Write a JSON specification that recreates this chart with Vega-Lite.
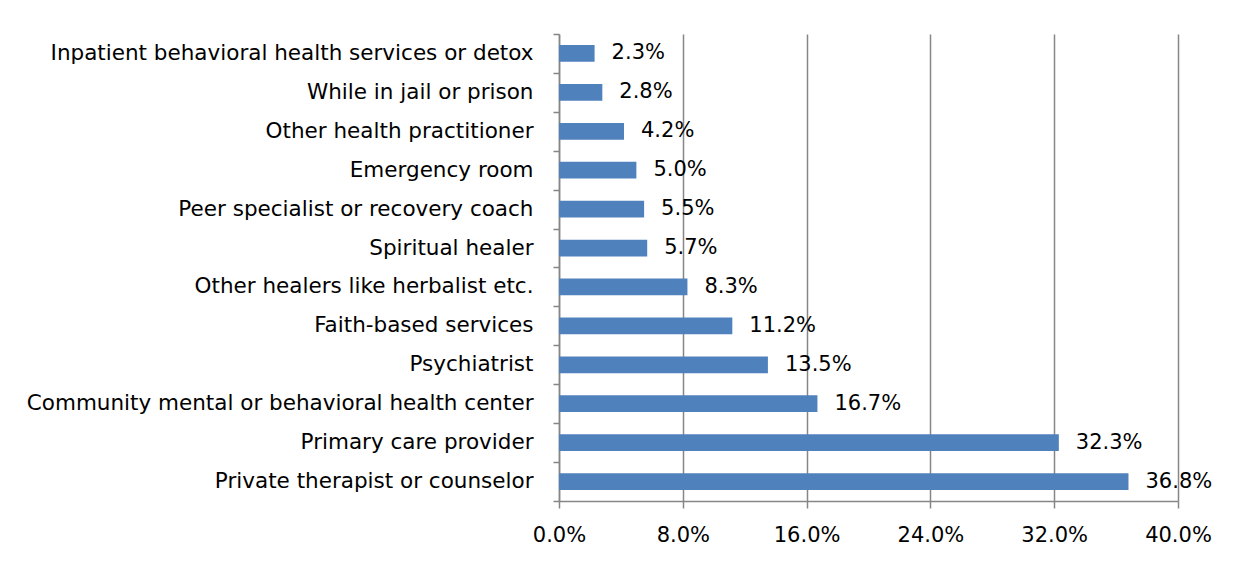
{
  "$schema": "https://vega.github.io/schema/vega-lite/v6.json",
  "width": 619,
  "height": 467,
  "autosize": "none",
  "padding": {"left": 559, "top": 34, "right": 58, "bottom": 62},
  "background": "white",
  "config": {"view": {"stroke": null}, "font": "DejaVu Sans"},
  "data": {
    "values": [
      {"source": "Inpatient behavioral health services or detox", "pct": 0.023},
      {"source": "While in jail or prison", "pct": 0.028},
      {"source": "Other health practitioner", "pct": 0.042},
      {"source": "Emergency room", "pct": 0.05},
      {"source": "Peer specialist or recovery coach", "pct": 0.055},
      {"source": "Spiritual healer", "pct": 0.057},
      {"source": "Other healers like herbalist etc.", "pct": 0.083},
      {"source": "Faith-based services", "pct": 0.112},
      {"source": "Psychiatrist", "pct": 0.135},
      {"source": "Community mental or behavioral health center", "pct": 0.167},
      {"source": "Primary care provider", "pct": 0.323},
      {"source": "Private therapist or counselor", "pct": 0.368}
    ]
  },
  "encoding": {
    "y": {
      "field": "source",
      "type": "nominal",
      "sort": "x",
      "scale": {"paddingInner": 0, "paddingOuter": 0},
      "axis": {
        "title": null,
        "tickBand": "extent",
        "domainColor": "#868686",
        "domainWidth": 1.5,
        "tickColor": "#868686",
        "tickWidth": 1.5,
        "tickSize": 6,
        "labelPadding": 20,
        "labelFontSize": 21.5,
        "labelColor": "black",
        "labelLimit": 0
      }
    },
    "x": {
      "field": "pct",
      "type": "quantitative",
      "scale": {"domain": [0, 0.4]},
      "axis": {
        "title": null,
        "values": [0, 0.08, 0.16, 0.24, 0.32, 0.4],
        "format": ".1%",
        "grid": true,
        "gridColor": "#868686",
        "gridWidth": 1.5,
        "gridOpacity": 1,
        "domainColor": "#868686",
        "domainWidth": 1.5,
        "tickColor": "#868686",
        "tickWidth": 1.5,
        "tickSize": 7,
        "labelPadding": 16,
        "labelFontSize": 21,
        "labelColor": "black",
        "labelFlush": false
      }
    }
  },
  "layer": [
    {"mark": {"type": "bar", "color": "#4F81BD", "height": {"band": 0.43}}},
    {
      "mark": {"type": "text", "align": "left", "dx": 17, "fontSize": 21, "color": "black"},
      "encoding": {"text": {"field": "pct", "type": "quantitative", "format": ".1%"}}
    }
  ]
}
